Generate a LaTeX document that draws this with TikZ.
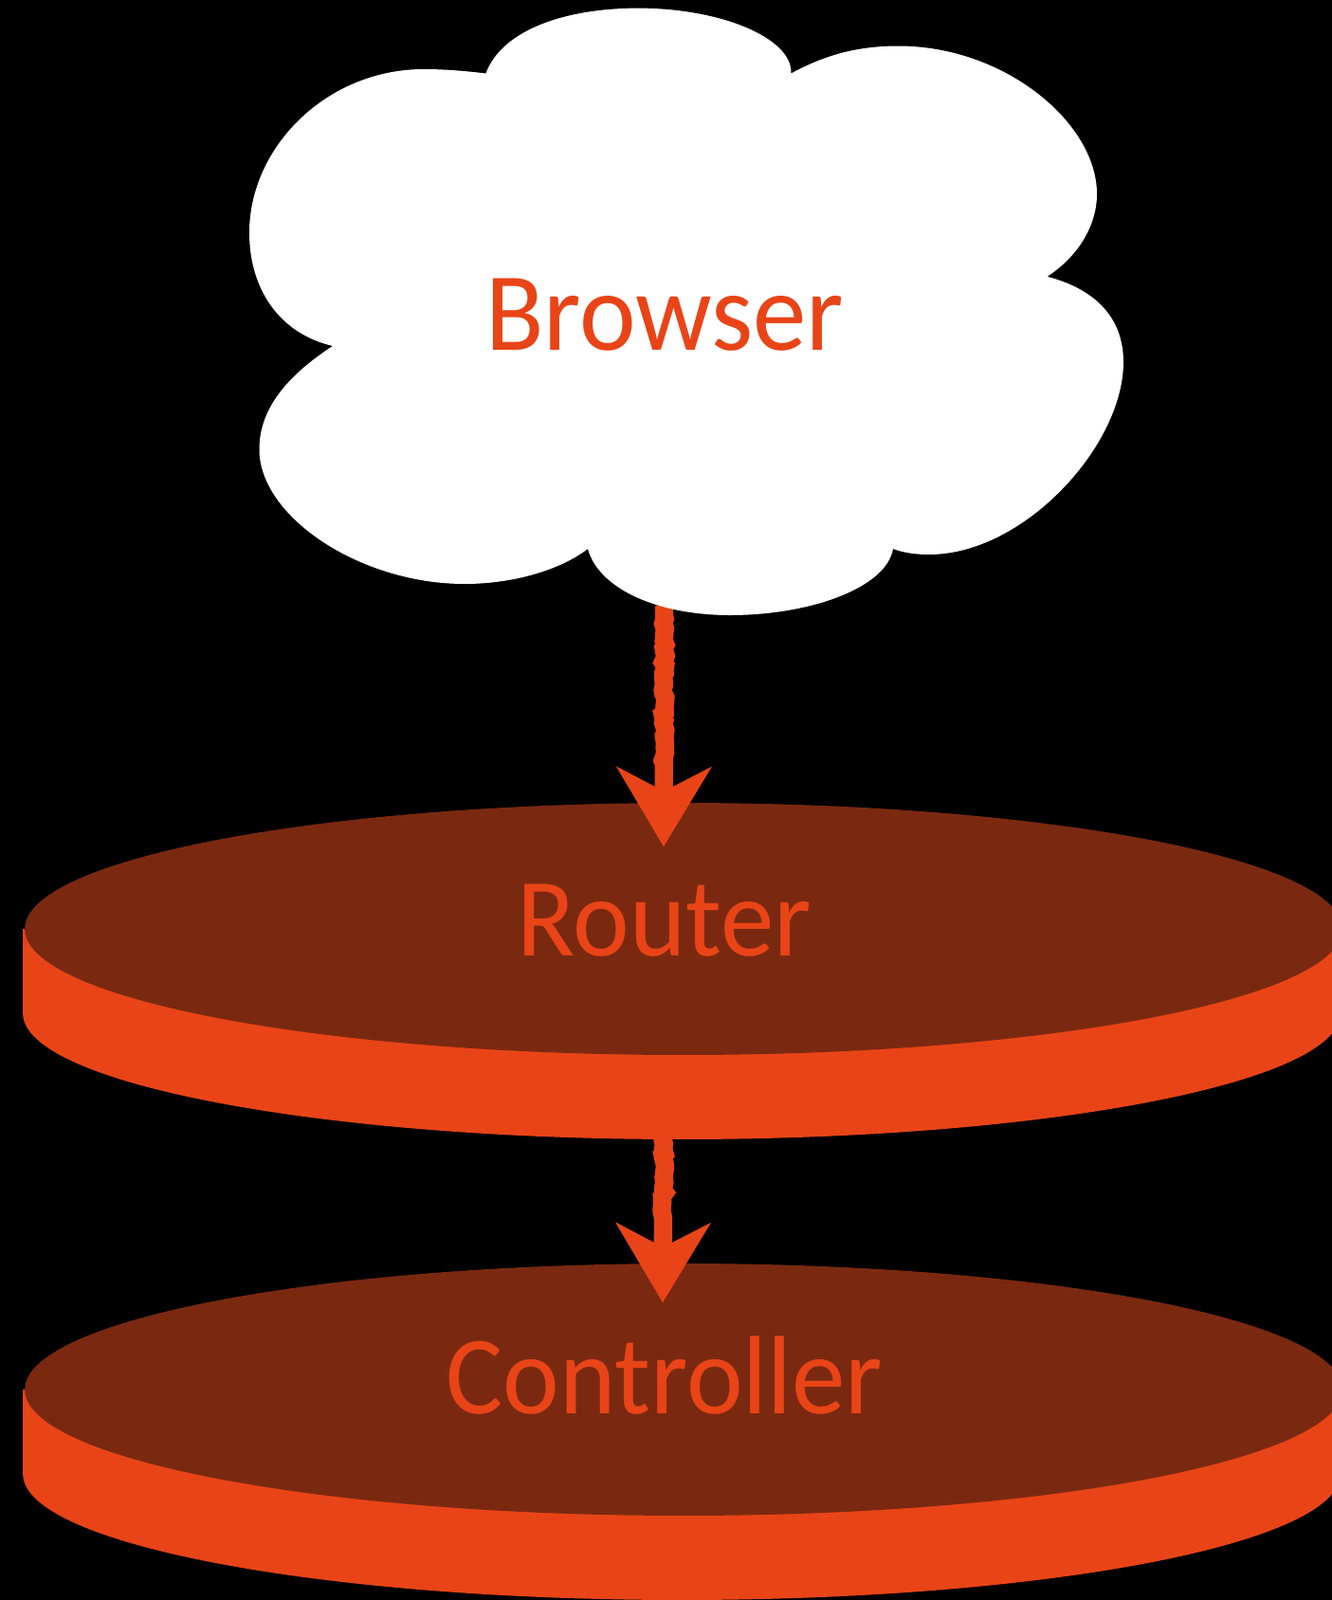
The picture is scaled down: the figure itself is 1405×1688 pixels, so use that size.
\documentclass[tikz,border=0pt]{standalone}
\usepackage{fontspec}
\setmainfont[FakeStretch=0.96]{Carlito}
\usetikzlibrary{arrows.meta,decorations.pathmorphing,shapes.geometric}
\definecolor{flame}{HTML}{E94417}
\definecolor{rust}{HTML}{7A2910}
\tikzset{
    disktop/.style={ellipse,fill=rust,inner sep=0pt,minimum width=27.8cm,minimum height=5.32cm},
    diskbase/.style={ellipse,fill=flame,inner sep=0pt,minimum width=27.8cm,minimum height=5.32cm},
    tag/.style={text=flame,anchor=base,inner sep=0pt,font=\fontsize{67}{70}\selectfont},
    scratch/.style={flame,line width=11pt,decorate,
        decoration={random steps,segment length=2.5pt,amplitude=.9pt,post length=50pt},
        -{Stealth[length=1.66cm,width=1.96cm,inset=.5cm]},
        preaction={draw,flame,line width=10.5pt,decorate,-{Stealth[length=1.66cm,width=1.96cm,inset=.5cm]}}}
}
\begin{document}
\begin{tikzpicture}[x=0.02cm,y=-0.02cm]
    \useasboundingbox (0,0) rectangle (1405,1688);
    \fill[black] (0,0) rectangle (1405,1688);

    % the two disks, side first and top over it
    \foreach \name/\y in {router/980,controller/1466}{
        \node[diskbase] (\name base) at (719,\y+89) {};
        \fill[flame] (\name base.west) rectangle ++(1390,-89);
        \node[disktop] (\name) at (721,\y) {};
    }

    \coordinate (cloudfoot) at (701,640);
    \coordinate (routerfoot) at (700,1198);
    \coordinate (routerpoint) at (700,893);
    \coordinate (controllerpoint) at (699,1374);
    \draw[scratch] (cloudfoot) -- (routerpoint);
    \draw[scratch] (routerfoot) -- (controllerpoint);

    % cloud
    \fill[white] (512.5,77.5) .. controls (530,30) and (600,8.6) .. (673,8.6)
        .. controls (760,8.6) and (836,40) .. (834.5,77.5)
        .. controls (870,58) and (905,48.5) .. (947.5,48.5)
        .. controls (1060,48.5) and (1157,130) .. (1157,204.6)
        .. controls (1157,240) and (1135,272) .. (1104.6,291.8)
        .. controls (1155,305) and (1185,335) .. (1185,382)
        .. controls (1185,470) and (1080,585) .. (980,585)
        .. controls (965,585) and (953,583) .. (942,579)
        .. controls (935,620) and (855,649) .. (770,649)
        .. controls (695,649) and (632,622) .. (620,579)
        .. controls (590,602) and (540,616) .. (490,616)
        .. controls (380,616) and (273.5,545) .. (273.5,474)
        .. controls (273.5,430) and (305,395) .. (351,365)
        .. controls (295,352) and (263,305) .. (263,245.5)
        .. controls (263,155) and (345,73) .. (447,73)
        .. controls (470,73) and (492,75) .. (512.5,77.5) -- cycle;

    \node[tag] (browser) at (701,369) {Browser};
    \node[tag] (routerlabel) at (701,1008) {Router};
    \node[tag] (controllerlabel) at (701,1491) {Controller};
\end{tikzpicture}
\end{document}
